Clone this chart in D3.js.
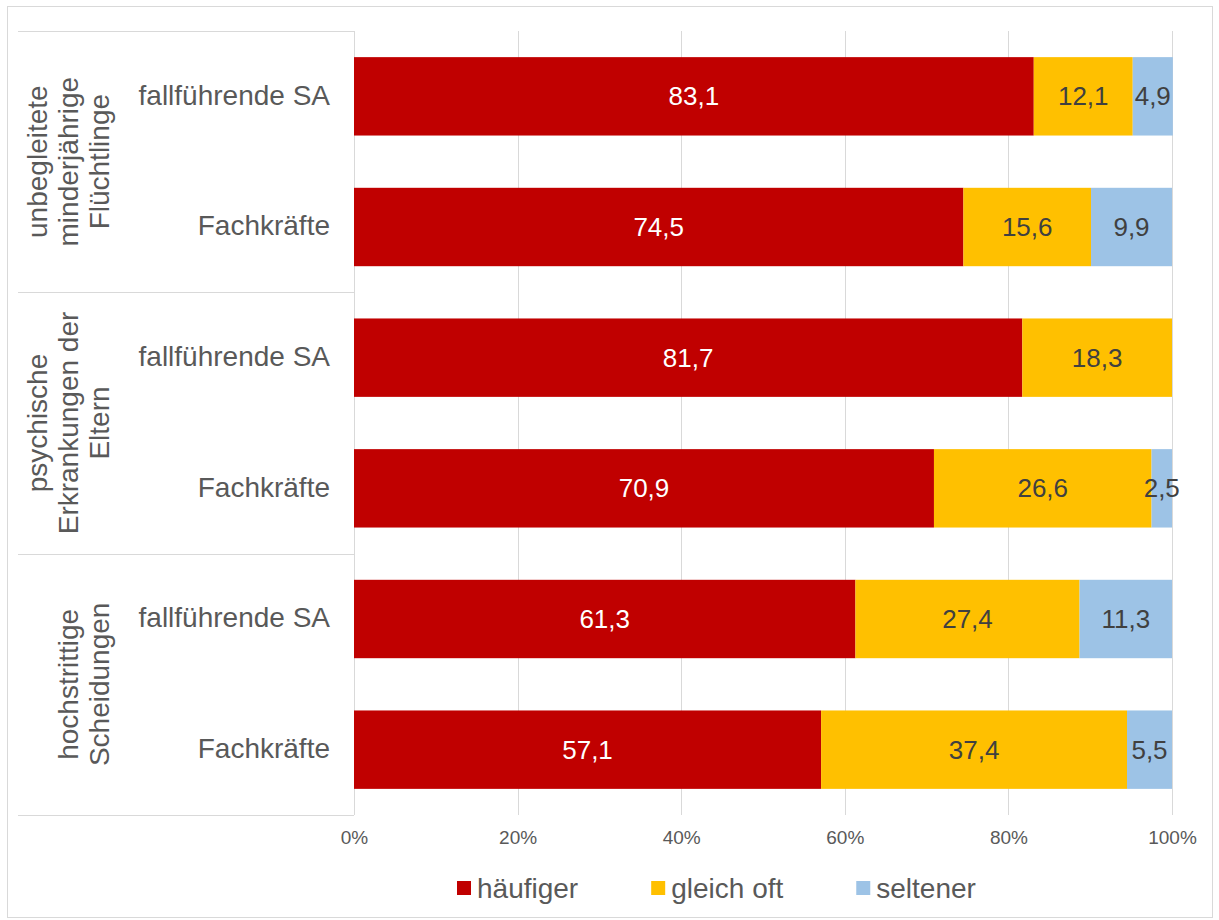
<!DOCTYPE html>
<html>
<head>
<meta charset="utf-8">
<script src="https://cdn.jsdelivr.net/npm/d3@7"></script>
<style>
  body { margin: 0; background: #fff; }
  svg { display: block; font-family: "Liberation Sans", Arial, sans-serif; }
</style>
</head>
<body>
<svg id="chart" width="1219" height="920"></svg>
<script>
// data
var groups = [
  ["unbegleitete", "minderjährige", "Flüchtlinge"],
  ["psychische", "Erkrankungen der", "Eltern"],
  ["hochstrittige", "Scheidungen"]
];
var subLabels = ["fallführende SA", "Fachkräfte", "fallführende SA", "Fachkräfte", "fallführende SA", "Fachkräfte"];
var haeufiger = [83.1, 74.5, 81.7, 70.9, 61.3, 57.1];
var gleichOft = [12.1, 15.6, 18.3, 26.6, 27.4, 37.4];
var seltener = [4.9, 9.9, 0, 2.5, 11.3, 5.5];
var seriesNames = ["häufiger", "gleich oft", "seltener"];
var ticks = [0, 20, 40, 60, 80, 100];

var colors = ["#C00000", "#FFC000", "#9DC3E6"];
var labelColors = ["#ffffff", "#404040", "#404040"];
var gridColor = "#d9d9d9";
var textColor = "#595959";

var margin = { top: 31, left: 354, right: 47, bottom: 105 },
  width = 1172 - margin.left,
  height = 815 - margin.top;

var svg = d3.select("#chart");

// outer border
svg.append("rect")
  .attr("x", 7.5).attr("y", 6.5)
  .attr("width", 1205).attr("height", 911)
  .attr("fill", "none")
  .attr("stroke", gridColor);

var g = svg.append("g")
  .attr("transform", "translate(" + margin.left + "," + margin.top + ")");

var rows = subLabels.map(function (d, i) {
  return { i: i, label: d, values: [haeufiger[i], gleichOft[i], seltener[i]] };
});

var x = d3.scaleLinear().domain([0, 100]).range([0, width]);
var y = d3.scaleBand().domain(d3.range(rows.length)).range([0, height]).paddingInner(0.4).paddingOuter(0.2);

// gridlines
g.selectAll(".grid")
  .data(ticks)
  .enter()
  .append("line")
  .attr("class", "grid")
  .attr("x1", function (d) { return Math.round(x(d)) + 0.5; })
  .attr("x2", function (d) { return Math.round(x(d)) + 0.5; })
  .attr("y1", 0)
  .attr("y2", height)
  .attr("stroke", gridColor);

// x axis labels
var xAxis = d3.axisBottom(x).tickValues(ticks).tickSize(0).tickPadding(16)
  .tickFormat(function (d) { return d + "%"; });
g.append("g")
  .attr("transform", "translate(0," + height + ")")
  .call(xAxis)
  .call(function (s) { s.select(".domain").remove(); })
  .selectAll("text")
  .attr("font-size", 19)
  .attr("font-family", "Liberation Sans, Arial, sans-serif")
  .attr("fill", textColor);

// stacked bars
var stack = rows.map(function (r) {
  var acc = 0;
  return r.values.map(function (v, k) {
    var s = { row: r.i, k: k, v: v, x0: acc, x1: acc + v };
    acc += v;
    return s;
  });
});

var rowG = g.selectAll(".row")
  .data(stack)
  .enter()
  .append("g")
  .attr("class", "row");

rowG.selectAll("rect")
  .data(function (d) { return d.filter(function (s) { return s.v > 0; }); })
  .enter()
  .append("rect")
  .attr("x", function (d) { return x(d.x0); })
  .attr("width", function (d) { return x(d.x1) - x(d.x0); })
  .attr("y", function (d) { return y(d.row); })
  .attr("height", y.bandwidth())
  .attr("fill", function (d) { return colors[d.k]; });

rowG.selectAll("text")
  .data(function (d) { return d.filter(function (s) { return s.v > 0; }); })
  .enter()
  .append("text")
  .attr("x", function (d) { return x((d.x0 + d.x1) / 2); })
  .attr("y", function (d) { return y(d.row) + y.bandwidth() / 2; })
  .attr("dy", "0.35em")
  .attr("text-anchor", "middle")
  .attr("font-size", 26)
  .attr("fill", function (d) { return labelColors[d.k]; })
  .text(function (d) { return d.v.toFixed(1).replace(".", ","); });

// category labels
g.selectAll(".cat")
  .data(rows)
  .enter()
  .append("text")
  .attr("class", "cat")
  .attr("x", -24)
  .attr("y", function (d) { return y(d.i) + y.bandwidth() / 2; })
  .attr("dy", "0.3em")
  .attr("text-anchor", "end")
  .attr("font-size", 28)
  .attr("fill", textColor)
  .text(function (d) { return d.label; });

// group boxes
var bounds = [0, 2 * height / 6, 4 * height / 6, height];
g.selectAll(".sep")
  .data(bounds)
  .enter()
  .append("line")
  .attr("x1", 18 - margin.left)
  .attr("x2", 0)
  .attr("y1", function (d) { return Math.round(d) + 0.5; })
  .attr("y2", function (d) { return Math.round(d) + 0.5; })
  .attr("stroke", gridColor);

// group labels (rotated)
groups.forEach(function (lines, gi) {
  var cy = (bounds[gi] + bounds[gi + 1]) / 2;
  var n = lines.length;
  lines.forEach(function (line, li) {
    var cx = 99 - margin.left - (n - 1 - li) * 31;
    g.append("text")
      .attr("transform", "translate(" + cx + "," + cy + ") rotate(-90)")
      .attr("dy", "0.35em")
      .attr("text-anchor", "middle")
      .attr("font-size", 28)
      .attr("fill", textColor)
      .text(line);
  });
});

// legend
var legend = svg.append("g").attr("transform", "translate(457,888)");
var lx = 0;
seriesNames.forEach(function (name, k) {
  var item = legend.append("g").attr("transform", "translate(" + lx + ",0)");
  item.append("rect")
    .attr("x", 0).attr("y", -7)
    .attr("width", 14).attr("height", 14)
    .attr("fill", colors[k]);
  var t = item.append("text")
    .attr("x", 20)
    .attr("dy", "0.35em")
    .attr("font-size", 28)
    .attr("fill", textColor)
    .text(name);
  lx += 20 + t.node().getComputedTextLength() + 73;
});
</script>
</body>
</html>
